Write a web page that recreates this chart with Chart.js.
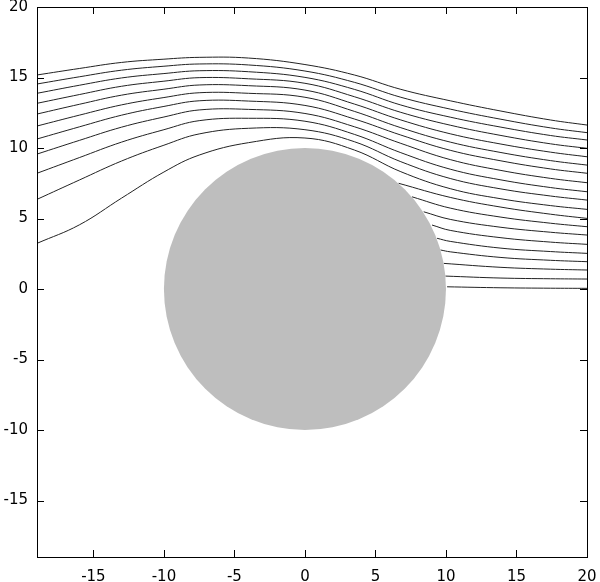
<!DOCTYPE html>
<html>
<head>
<meta charset="utf-8">
<script src="https://cdn.jsdelivr.net/npm/chart.js@4.4.1/dist/chart.umd.min.js"></script>
<style>
  html, body { margin: 0; padding: 0; background: #fff; }
  #wrap { width: 600px; height: 582px; }
</style>
</head>
<body>
<div id="wrap"><canvas id="chart" width="600" height="582"></canvas></div>
<script>
// tick labels
const xTicks = [-15, -10, -5, 0, 5, 10, 15, 20];
const yTicks = [-15, -10, -5, 0, 5, 10, 15, 20];

// the obstacle: centre and radius in data units
const circleCenter = [0, 0];
const circleRadius = 10;

// streamlines that enter from the left edge, sampled at these x
const xUpper = [-19, -16, -13, -10, -7.5, -4, 0, 3.5, 6.8, 10.3, 13.9, 17.4, 20];
const line1  = [15.18, 15.64, 16.07, 16.30, 16.43, 16.38, 15.92, 15.18, 14.16, 13.35, 12.62, 11.99, 11.63];
const line2  = [14.54, 15.05, 15.52, 15.80, 15.96, 15.89, 15.46, 14.66, 13.60, 12.76, 12.04, 11.43, 11.09];
const line3  = [13.88, 14.45, 14.97, 15.28, 15.48, 15.41, 15.01, 14.16, 13.05, 12.19, 11.48, 10.89, 10.57];
const line4  = [13.17, 13.79, 14.38, 14.74, 14.99, 14.91, 14.59, 13.64, 12.53, 11.62, 10.89, 10.30, 9.98];
const line5  = [12.41, 13.10, 13.75, 14.17, 14.47, 14.42, 14.11, 13.12, 11.99, 11.01, 10.28, 9.71, 9.38];
const line6  = [11.56, 12.33, 13.06, 13.58, 13.92, 13.88, 13.60, 12.60, 11.44, 10.42, 9.68, 9.11, 8.79];
const line7  = [10.64, 11.50, 12.33, 12.95, 13.35, 13.33, 13.02, 12.06, 10.92, 9.84, 9.09, 8.52, 8.21];
const line8  = [9.57, 10.54, 11.48, 12.20, 12.70, 12.74, 12.45, 11.51, 10.33, 9.18, 8.41, 7.85, 7.54];
const line9  = [8.21, 9.32, 10.42, 11.30, 11.94, 12.11, 11.90, 10.97, 9.67, 8.50, 7.74, 7.20, 6.90];
const line10 = [6.36, 7.73, 9.08, 10.20, 11.00, 11.40, 11.30, 10.45, 9.03, 7.84, 7.10, 6.60, 6.31];
const line11 = [3.24, 4.55, 6.45, 8.30, 9.50, 10.38, 10.71, 9.86, 8.32, 7.12, 6.40, 5.92, 5.65];

// streamlines that leave the back of the obstacle: [x list, y list]
const line12 = [[6.64, 10.3, 13.9, 17.4, 20], [7.50, 6.50, 5.81, 5.31, 5.01]];
const line13 = [[7.59, 10.3, 13.9, 17.4, 20], [6.54, 5.74, 5.10, 4.67, 4.42]];
const line14 = [[8.42, 10.3, 13.9, 17.4, 20], [5.48, 4.94, 4.38, 4.03, 3.83]];
const line15 = [[9.01, 10.3, 13.9, 17.4, 20], [4.54, 4.16, 3.64, 3.33, 3.17]];
const line16 = [[9.37, 10.3, 13.9, 17.4, 20], [3.60, 3.38, 2.90, 2.66, 2.53]];
const line17 = [[9.61, 10.3, 13.9, 17.4, 20], [2.77, 2.64, 2.24, 2.04, 1.94]];
const line18 = [[9.84, 13.9, 17.4, 20], [1.82, 1.54, 1.41, 1.35]];
const line19 = [[9.96, 13.9, 17.4, 20], [0.92, 0.78, 0.73, 0.71]];
const line20 = [[10.08, 13.9, 17.4, 20], [0.16, 0.09, 0.06, 0.05]];

const upperLines = [line1, line2, line3, line4, line5, line6, line7, line8, line9, line10, line11];
const lowerLines = [line12, line13, line14, line15, line16, line17, line18, line19, line20];

const toPoints = (xs, ys) => xs.map((x, i) => ({ x: x, y: ys[i] }));

const lineStyle = {
  borderColor: '#222',
  borderWidth: 1,
  pointRadius: 0,
  fill: false,
  showLine: true,
  tension: 0.4
};

const datasets = [];
upperLines.forEach(ys => datasets.push({ ...lineStyle, data: toPoints(xUpper, ys) }));
lowerLines.forEach(l => datasets.push({ ...lineStyle, data: toPoints(l[0], l[1]) }));

// grey disc drawn on top of the lines, sized through the scales
const discPlugin = {
  id: 'disc',
  afterDatasetsDraw(chart) {
    const { ctx, scales: { x, y }, chartArea } = chart;
    const cx = x.getPixelForValue(circleCenter[0]);
    const cy = y.getPixelForValue(circleCenter[1]);
    const r = x.getPixelForValue(circleCenter[0] + circleRadius) - cx;
    ctx.save();
    ctx.beginPath();
    ctx.rect(chartArea.left, chartArea.top, chartArea.width, chartArea.height);
    ctx.clip();
    ctx.fillStyle = '#bebebe';
    ctx.beginPath();
    ctx.arc(cx, cy, r, 0, Math.PI * 2);
    ctx.fill();
    ctx.restore();
  }
};

// gnuplot-like frame: box border with inward ticks on all four sides
const framePlugin = {
  id: 'frame',
  afterDraw(chart) {
    const { ctx, scales: { x, y }, chartArea: a } = chart;
    const len = 7;
    ctx.save();
    ctx.strokeStyle = '#000';
    ctx.lineWidth = 1;
    ctx.beginPath();
    xTicks.forEach(v => {
      const px = Math.round(x.getPixelForValue(v)) + 0.5;
      ctx.moveTo(px, a.bottom); ctx.lineTo(px, a.bottom - len);
      ctx.moveTo(px, a.top); ctx.lineTo(px, a.top + len);
    });
    yTicks.forEach(v => {
      const py = Math.round(y.getPixelForValue(v)) + 0.5;
      ctx.moveTo(a.left, py); ctx.lineTo(a.left + len, py);
      ctx.moveTo(a.right, py); ctx.lineTo(a.right - len, py);
    });
    ctx.stroke();
    ctx.strokeRect(Math.round(a.left) + 0.5, Math.round(a.top) + 0.5,
                   Math.round(a.width), Math.round(a.height));
    ctx.restore();
  }
};

const tickFont = { family: "'DejaVu Sans', sans-serif", size: 15 };

new Chart(document.getElementById('chart').getContext('2d'), {
  type: 'scatter',
  data: { datasets: datasets },
  options: {
    responsive: false,
    animation: false,
    events: [],
    layout: { padding: { top: 7, right: 13, left: 0, bottom: 0 } },
    plugins: { legend: { display: false }, tooltip: { enabled: false } },
    scales: {
      x: {
        type: 'linear',
        min: -19,
        max: 20,
        grid: { display: false, drawTicks: false },
        border: { display: false },
        afterBuildTicks: s => { s.ticks = xTicks.map(v => ({ value: v })); },
        afterFit: s => { s.height = 25; s.paddingLeft = 0; s.paddingRight = 0; },
        ticks: { font: tickFont, color: '#000', padding: 11, maxRotation: 0, autoSkip: false }
      },
      y: {
        type: 'linear',
        min: -19,
        max: 20,
        grid: { display: false, drawTicks: false },
        border: { display: false },
        afterBuildTicks: s => { s.ticks = yTicks.map(v => ({ value: v })); },
        afterFit: s => { s.width = 37; s.paddingTop = 0; s.paddingBottom = 0; },
        ticks: { font: tickFont, color: '#000', padding: 9, autoSkip: false }
      }
    }
  },
  plugins: [discPlugin, framePlugin]
});
</script>
</body>
</html>
